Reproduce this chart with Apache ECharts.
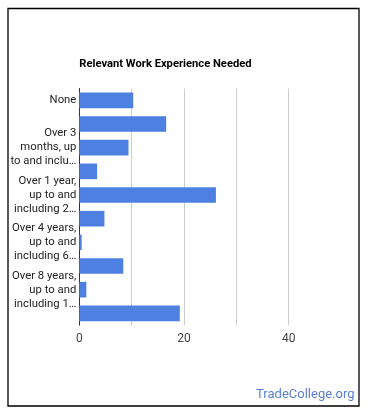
<!DOCTYPE html>
<html>
<head>
<meta charset="utf-8">
<script src="https://cdn.jsdelivr.net/npm/echarts@6/dist/echarts.min.js"></script>
<style>
html,body{margin:0;padding:0;background:#fff;}
#chart{width:370px;height:417px;}
</style>
</head>
<body>
<div id="chart"></div>
<script>
const categories = [
  "None",
  "Over 1 month, up to and including 3 months",
  "Over 3 months, up to and including 6 months",
  "Over 6 months, up to and including 1 year",
  "Over 1 year, up to and including 2 years",
  "Over 2 years, up to and including 4 years",
  "Over 4 years, up to and including 6 years",
  "Over 6 years, up to and including 8 years",
  "Over 8 years, up to and including 10 years",
  "Over 10 years"
];
const tickLabels = [
  "None",
  "",
  "Over 3\nmonths, up\nto and inclu…",
  "",
  "Over 1 year,\nup to and\nincluding 2…",
  "",
  "Over 4 years,\nup to and\nincluding 6…",
  "",
  "Over 8 years,\nup to and\nincluding 1…",
  ""
];
const values = [10.3, 16.6, 9.4, 3.4, 26.1, 4.8, 0.45, 8.4, 1.35, 19.2];
const xTickLabels = ["0", "20", "40"];

const chart = echarts.init(document.getElementById('chart'), null, {renderer: 'canvas'});
chart.setOption({
  animation: false,
  backgroundColor: '#ffffff',
  textStyle: {fontFamily: 'Roboto'},
  title: {
    text: 'Relevant Work Experience Needed',
    left: 79.3,
    top: 58.3,
    padding: 0,
    textStyle: {fontFamily: 'Roboto', fontSize: 11.2, fontWeight: 'bold', color: '#000'}
  },
  grid: {left: 79.3, top: 88.5, width: 209.4, height: 236.7, containLabel: false},
  xAxis: {
    type: 'value',
    min: 0,
    max: 40,
    interval: 10,
    axisLine: {show: false},
    axisTick: {show: false},
    splitLine: {show: true, lineStyle: {color: '#cccccc', width: 1}},
    axisLabel: {
      margin: 8,
      color: '#444',
      fontSize: 12,
      fontFamily: 'Roboto',
      formatter: function (v) {
        const s = String(v);
        return xTickLabels.indexOf(s) >= 0 ? s : '';
      }
    }
  },
  yAxis: {
    type: 'category',
    inverse: true,
    data: categories,
    axisLine: {show: true, lineStyle: {color: '#333', width: 1}},
    axisTick: {show: false},
    splitLine: {show: false},
    axisLabel: {
      interval: 0,
      margin: 3,
      color: '#222',
      fontSize: 11.3,
      lineHeight: 14,
      padding: [1, 0, 0, 0],
      fontFamily: 'Roboto',
      formatter: function (v, i) { return tickLabels[i]; }
    }
  },
  series: [{
    type: 'bar',
    data: values,
    barCategoryGap: '34%',
    itemStyle: {color: '#4d80e1'},
    z: 1
  }],
  graphic: [
    {
      type: 'rect',
      shape: {x: 8, y: 8.5, width: 351, height: 397.5},
      style: {fill: 'none', stroke: '#000', lineWidth: 1.3},
      silent: true
    },
    {
      type: 'text',
      right: 15.5,
      top: 388,
      style: {text: 'TradeCollege.org', fill: '#5b7fd1', fontSize: 13, fontFamily: 'Roboto'}
    }
  ]
});
</script>
</body>
</html>
